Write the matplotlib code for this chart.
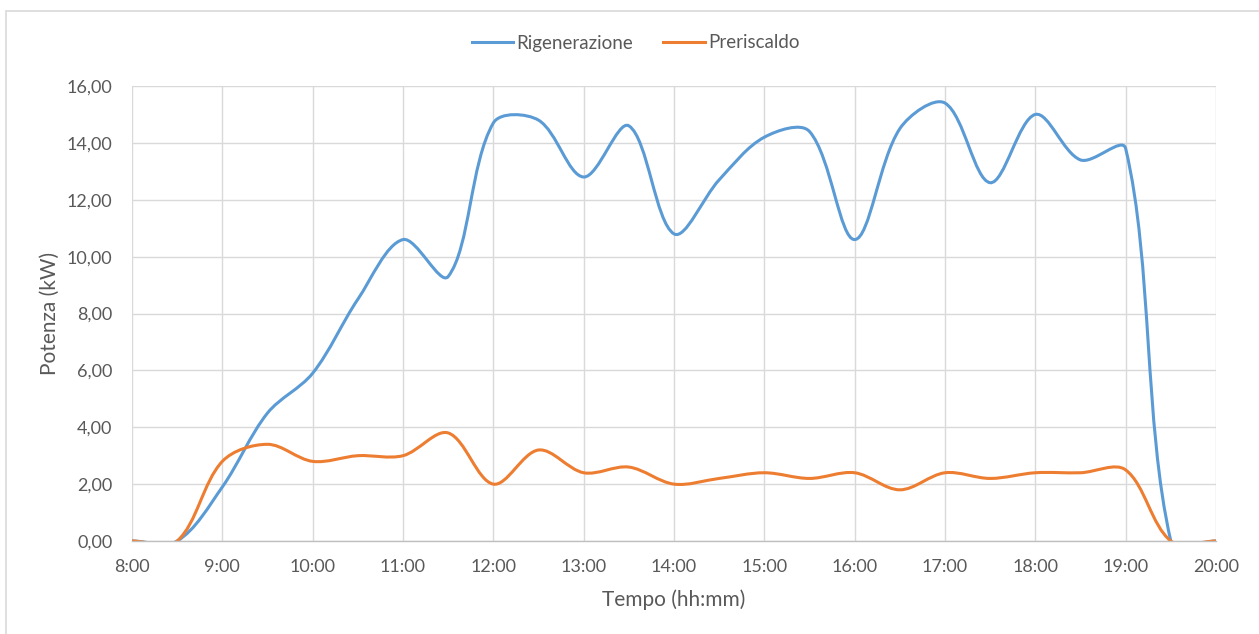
import numpy as np
import matplotlib.pyplot as plt
from matplotlib.path import Path
from matplotlib.patches import PathPatch, Rectangle
from matplotlib.lines import Line2D

# half-hourly readings, 8:00 -> 20:00 (hours)
hours = [8.0, 8.5, 9.0, 9.5, 10.0, 10.5, 11.0, 11.5, 12.0, 12.5, 13.0, 13.5,
         14.0, 14.5, 15.0, 15.5, 16.0, 16.5, 17.0, 17.5, 18.0, 18.5, 19.0,
         19.5, 20.0]
rigenerazione = [0.0, 0.0, 1.9, 4.5, 5.9, 8.5, 10.6, 9.3, 14.7, 14.8, 12.8, 14.6,
                 10.8, 12.7, 14.2, 14.4, 10.6, 14.5, 15.4, 12.6, 15.0, 13.4, 13.8,
                 0.0, 0.0]
preriscaldo = [0.0, 0.0, 2.8, 3.4, 2.8, 3.0, 3.0, 3.8, 2.0, 3.2, 2.4, 2.6,
               2.0, 2.2, 2.4, 2.2, 2.4, 1.8, 2.4, 2.2, 2.4, 2.4, 2.5,
               0.0, 0.0]
xticks = list(range(8, 21))
xlabels = [f"{h}:00" for h in xticks]
yticks = list(range(0, 17, 2))

BLUE = "#5B9BD5"
ORANGE = "#ED7D31"
GREY = "#595959"

plt.rcParams["font.family"] = ["Lato", "DejaVu Sans"]


def smooth_path(ax, x, y):
    # Excel-like smoothed line: cubic Bezier, control arms scaled by the
    # neighbouring segment lengths measured on screen
    disp = ax.transData.transform(np.column_stack([x, y]))
    n = len(disp)
    before, after = [], []
    for i in range(n):
        p0 = disp[max(i - 1, 0)]
        p1 = disp[i]
        p2 = disp[min(i + 1, n - 1)]
        d = p2 - p0
        l0 = np.hypot(*(p1 - p0))
        l1 = np.hypot(*(p2 - p1))
        s = l0 + l1 if l0 + l1 > 0 else 1.0
        before.append(p1 - d * l0 / s / 3.0)
        after.append(p1 + d * l1 / s / 3.0)
    verts = [disp[0]]
    codes = [Path.MOVETO]
    for i in range(n - 1):
        verts += [after[i], before[i + 1], disp[i + 1]]
        codes += [Path.CURVE4] * 3
    verts = ax.transData.inverted().transform(np.array(verts))
    return Path(verts, codes)


fig = plt.figure(figsize=(12.59, 6.34), dpi=100)
fig.patches.append(Rectangle((6 / 1259, -0.1), 1.2, (634 - 11) / 634 + 0.1,
                             transform=fig.transFigure, fill=False,
                             edgecolor="#d9d9d9", linewidth=1.2))

ax = fig.add_axes([132 / 1259, (634 - 541) / 634, (1216 - 132) / 1259, (541 - 86) / 634])
ax.set_xlim(8, 20)
ax.set_ylim(0, 16)

for series, color in [(rigenerazione, BLUE), (preriscaldo, ORANGE)]:
    ax.add_patch(PathPatch(smooth_path(ax, hours, series), fill=False,
                           edgecolor=color, linewidth=2.2, capstyle="round"))

ax.set_xticks(xticks)
ax.set_xticklabels(xlabels)
ax.set_yticks(yticks)
ax.set_yticklabels([f"{v:.2f}".replace(".", ",") for v in yticks])
ax.tick_params(axis="y", length=0, labelsize=13, labelcolor=GREY, pad=14)
ax.tick_params(axis="x", length=0, labelsize=13, labelcolor=GREY, pad=13)
ax.grid(True, color="#d9d9d9", linewidth=1.0)
ax.set_axisbelow(True)
for side in ["left", "right", "top"]:
    ax.spines[side].set_visible(False)
ax.spines["bottom"].set_color("#bfbfbf")
ax.spines["bottom"].set_linewidth(1.0)

ax.set_xlabel("Tempo (hh:mm)", fontsize=15, color=GREY, labelpad=10)
ax.set_ylabel("Potenza (kW)", fontsize=15, color=GREY, labelpad=5)

handles = [Line2D([], [], color=BLUE, linewidth=2.2),
           Line2D([], [], color=ORANGE, linewidth=2.2)]
fig.legend(handles, ["Rigenerazione", "Preriscaldo"], loc="center",
           bbox_to_anchor=(0.505, (634 - 43) / 634), ncol=2, frameon=False,
           fontsize=13.5, labelcolor=GREY, handlelength=2.2, handletextpad=0.2,
           columnspacing=1.6)

fig.savefig("out.png", dpi=100)
